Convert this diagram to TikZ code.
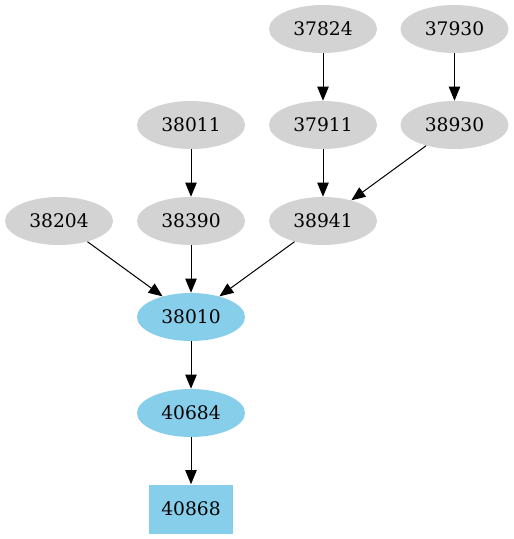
\documentclass[tikz,border=0pt]{standalone}
\usepackage{fontspec}
\setmainfont{DejaVu Serif}
\usetikzlibrary{shapes.geometric,arrows.meta}
\definecolor{gvgray}{HTML}{D3D3D3}
\definecolor{gvblue}{HTML}{87CEEB}
\tikzset{
  gnode/.style={ellipse, fill=gvgray, draw=none, minimum width=81pt, minimum height=36pt, inner sep=0pt, font=\fontsize{14pt}{16pt}\selectfont},
  bnode/.style={gnode, fill=gvblue},
  bbox/.style={rectangle, fill=gvblue, draw=none, minimum width=63pt, minimum height=36.75pt, inner sep=0pt, font=\fontsize{14pt}{16pt}\selectfont},
  edge/.style={draw=black, line width=0.75pt, -{Triangle[length=10.5pt,width=8.5pt]}}
}
\begin{document}
\begin{tikzpicture}[x=0.75pt,y=-0.75pt]
\useasboundingbox (0,0) rectangle (514,539);
\node[gnode] (n37824) at (323,29) {37824};
\node[gnode] (n37930) at (454.5,29) {37930};
\node[gnode] (n38011) at (191,125) {38011};
\node[gnode] (n37911) at (323,125) {37911};
\node[gnode] (n38930) at (454.5,125) {38930};
\node[gnode] (n38204) at (59,221) {38204};
\node[gnode] (n38390) at (191,221) {38390};
\node[gnode] (n38941) at (323,221) {38941};
\node[bnode] (n38010) at (191,317) {38010};
\node[bnode] (n40684) at (191,413) {40684};
\node[bbox] (n40868) at (191,509) {40868};
\draw[edge] (n37824) -- (n37911);
\draw[edge] (n37930) -- (n38930);
\draw[edge] (n38011) -- (n38390);
\draw[edge] (n37911) -- (n38941);
\draw[edge] (n38930) -- (n38941);
\draw[edge] (n38204) -- (n38010);
\draw[edge] (n38390) -- (n38010);
\draw[edge] (n38941) -- (n38010);
\draw[edge] (n38010) -- (n40684);
\draw[edge] (n40684) -- (n40868);
\end{tikzpicture}
\end{document}
